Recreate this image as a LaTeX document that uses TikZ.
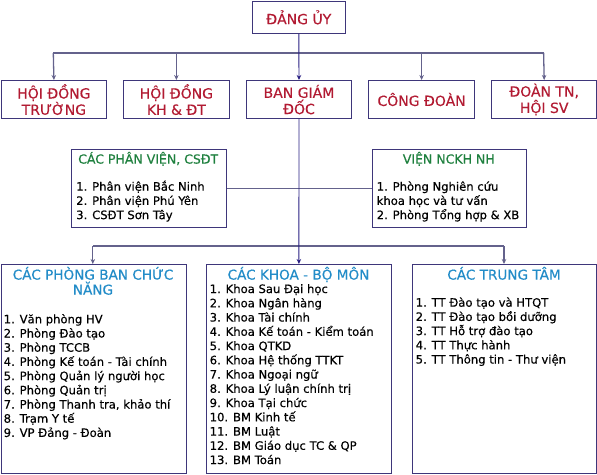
\documentclass[tikz,border=0pt]{standalone}
\usepackage{fontspec}
\setmainfont{DejaVu Sans}[FakeBold=0.35]
\usetikzlibrary{arrows.meta,calc}
\definecolor{boxc}{RGB}{62,54,122}
\definecolor{busc}{RGB}{100,98,140}
\definecolor{trunkc}{RGB}{40,30,130}
\definecolor{titlered}{RGB}{178,26,50}
\definecolor{titleblue}{RGB}{34,140,200}
\definecolor{titlegreen}{RGB}{30,128,62}
\tikzset{
  box/.style={draw=boxc, line width=1.1pt, inner sep=0pt, anchor=north west, fill=white},
  redbox/.style={box, font=\fontsize{14}{16.3}\selectfont, text=titlered, align=center},
  item/.style={anchor=base west, inner sep=0pt, font=\fontsize{11.6}{14.2}\selectfont},
  gtitle/.style={anchor=base, inner sep=0pt, font=\fontsize{12.5}{15}\selectfont, text=titlegreen},
  btitle/.style={anchor=base, inner sep=0pt, font=\fontsize{13.6}{15}\selectfont, text=titleblue},
  bus/.style={draw=busc, line width=1.3pt},
  trunk/.style={draw=trunkc, line width=0.9pt},
  tip/.style={-{Stealth[length=5pt,width=4.5pt]}},
}
\begin{document}
\begin{tikzpicture}[x=1pt,y=-1pt]
\useasboundingbox (0,0) rectangle (597,474);

% top
\node[redbox, minimum width=93.5pt, minimum height=32pt] (dang) at (251.5,0.8) {ĐẢNG ỦY};

% row 2
\node[redbox, minimum width=105.5pt, minimum height=38pt] (hdt) at (0.6,80) {HỘI ĐỒNG\\TRƯỜNG};
\node[redbox, minimum width=105.5pt, minimum height=38pt] (hkh) at (123.1,80) {HỘI ĐỒNG\\KH \& ĐT};
\node[redbox, minimum width=105.5pt, minimum height=38pt] (bgd) at (245.7,80) {BAN GIÁM\\ĐỐC};
\node[redbox, minimum width=105.5pt, minimum height=38pt] (cdn) at (368.3,80) {CÔNG ĐOÀN};
\node[redbox, minimum width=105.5pt, minimum height=38pt] (dtn) at (490.9,80) {ĐOÀN TN,\\HỘI SV};

% bus 1
\coordinate (b1l) at (53.3,53);
\coordinate (b1r) at (543.6,53);
\draw[bus] (b1l) -- (b1r);
\draw[bus, tip] (b1l) -- (hdt.north);
\draw[bus, tip] (hkh.north |- b1l) -- (hkh.north);
\draw[bus, tip] (cdn.north |- b1l) -- (cdn.north);
\draw[bus, tip] (b1r) -- (dtn.north);

% side boxes
\node[box, minimum width=155pt, minimum height=78pt] (pv) at (70.7,149) {};
\node[box, minimum width=154.3pt, minimum height=78pt] (vien) at (371.7,149) {};
\draw[bus] (pv.east) -- (vien.west);

\node[gtitle] (pvt) at (148.2,163.6) {CÁC PHÂN VIỆN, CSĐT};
\foreach \t [count=\i] in {1. Phân viện Bắc Ninh, 2. Phân viện Phú Yên, 3. CSĐT Sơn Tây}
  \node[item] (pv\i) at (76,176.5+14.2*\i) {\t};
\node[gtitle] (vient) at (448.8,163.6) {VIỆN NCKH NH};
\foreach \t [count=\i] in {1. Phòng Nghiên cứu, khoa học và tư vấn, 2. Phòng Tổng hợp \& XB}
  \node[item] (vi\i) at (376.5,176.5+14.2*\i) {\t};

% bottom boxes
\node[box, minimum width=185pt, minimum height=208.5pt] (pb) at (0.6,264) {};
\node[box, minimum width=185.3pt, minimum height=208.5pt] (kh) at (205.7,264) {};
\node[box, minimum width=184pt, minimum height=208.5pt] (tt) at (411.7,264) {};

% bus 2
\coordinate (b2l) at (92.8,246);
\coordinate (b2r) at (504,246);
\draw[bus] (b2l) -- (b2r);
\draw[bus, tip] (b2l) -- (pb.north -| b2l);
\draw[bus, tip] (b2r) -- (tt.north -| b2r);

% trunk
\draw[trunk, tip] (dang.south) -- (bgd.north);
\draw[trunk, tip] (bgd.south) -- (kh.north);

% bottom texts
\node[btitle] (pbt1) at (93,279.6) {CÁC PHÒNG BAN CHỨC};
\node[btitle] (pbt2) at (93,294.6) {NĂNG};
\foreach \t [count=\i] in {1. Văn phòng HV, 2. Phòng Đào tạo, 3. Phòng TCCB, 4. Phòng Kế toán - Tài chính, 5. Phòng Quản lý người học, 6. Phòng Quản trị, {7. Phòng Thanh tra, khảo thí}, 8. Trạm Y tế, 9. VP Đảng - Đoàn}
  \node[item] (pb\i) at (3.5,309.1+14.2*\i) {\t};

\node[btitle] (kht) at (298.5,279.6) {CÁC KHOA - BỘ MÔN};
\foreach \t [count=\i] in {1. Khoa Sau Đại học, 2. Khoa Ngân hàng, 3. Khoa Tài chính, 4. Khoa Kế toán - Kiểm toán, 5. Khoa QTKD, 6. Khoa Hệ thống TTKT, 7. Khoa Ngoại ngữ, 8. Khoa Lý luận chính trị, 9. Khoa Tại chức, 10. BM Kinh tế, 11. BM Luật, 12. BM Giáo dục TC \& QP, 13. BM Toán}
  \node[item] (kh\i) at (209.5,278.8+14.25*\i) {\t};

\node[btitle] (ttt) at (504,279.6) {CÁC TRUNG TÂM};
\foreach \t [count=\i] in {1. TT Đào tạo và HTQT, 2. TT Đào tạo bồi dưỡng, 3. TT Hỗ trợ đào tạo, 4. TT Thực hành, 5. TT Thông tin - Thư viện}
  \node[item] (tt\i) at (415.5,292.5+14.2*\i) {\t};
\end{tikzpicture}
\end{document}
